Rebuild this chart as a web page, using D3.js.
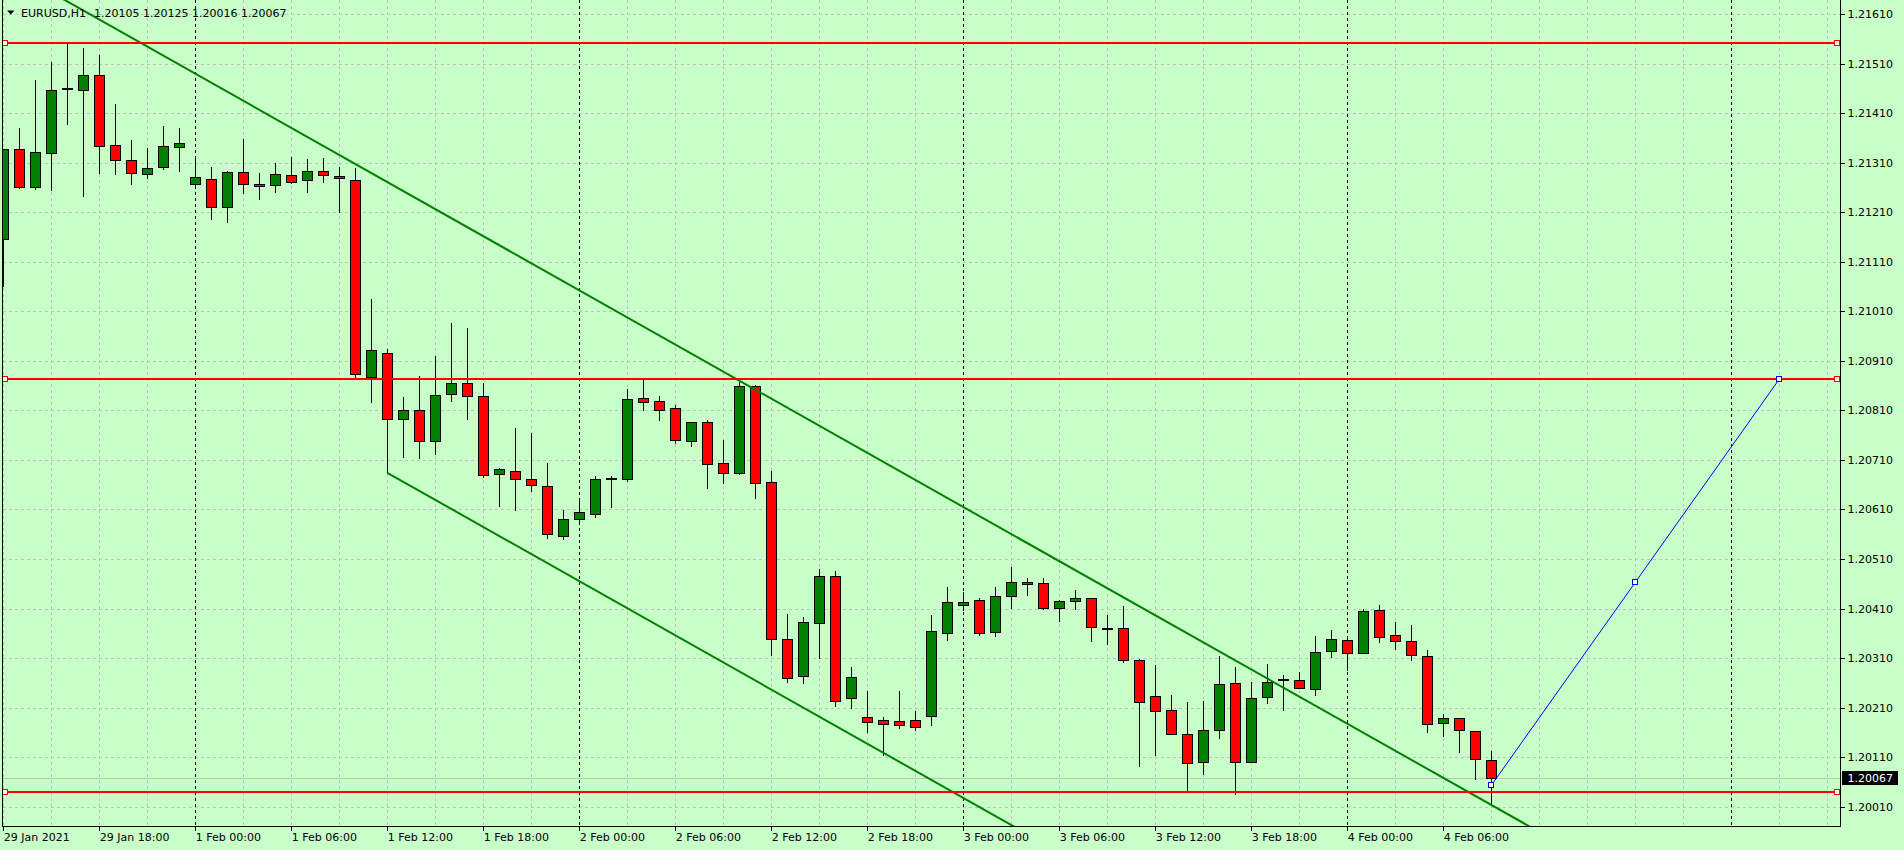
<!DOCTYPE html>
<html lang="en">
<head>
<meta charset="utf-8">
<title>EURUSD,H1</title>
<script src="https://d3js.org/d3.v7.min.js"></script>
<style>
  body { margin: 0; background: #c8ffc8; overflow: hidden; }
  svg { display: block; }
  text { font-family: "DejaVu Sans", sans-serif; font-size: 11px; }
  .crisp line, .crisp rect { shape-rendering: crispEdges; }
</style>
</head>
<body>
<script>
// H1 bars, 29 Jan 2021 12:00 .. 4 Feb 2021 09:00
var opens = [1.21155,1.21337,1.21260,1.21329,1.21459,1.21457,1.21486,1.21345,1.21315,1.21288,
  1.21301,1.21341,1.21267,1.21276,1.21220,1.21292,1.21267,1.21264,1.21286,1.21274,
  1.21294,1.21284,1.21274,1.20878,1.20925,1.20793,1.20810,1.20749,1.20842,1.20865,
  1.20838,1.20681,1.20687,1.20671,1.20657,1.20557,1.20590,1.20600,1.20672,1.20671,
  1.20834,1.20828,1.20814,1.20749,1.20786,1.20703,1.20684,1.20860,1.20666,1.20349,
  1.20273,1.20381,1.20475,1.20229,1.20191,1.20185,1.20183,1.20185,1.20193,1.20360,
  1.20418,1.20428,1.20362,1.20436,1.20463,1.20461,1.20412,1.20426,1.20432,1.20368,
  1.20370,1.20307,1.20234,1.20206,1.20156,1.20101,1.20164,1.20259,1.20101,1.20232,
  1.20265,1.20265,1.20247,1.20325,1.20346,1.20321,1.20408,1.20356,1.20344,1.20315,
  1.20178,1.20190,1.20162,1.20105];
var highs = [1.21339,1.21382,1.21479,1.21515,1.21553,1.21543,1.21529,1.21430,1.21358,1.21342,
  1.21385,1.21382,1.21323,1.21303,1.21295,1.21360,1.21291,1.21311,1.21323,1.21319,
  1.21321,1.21303,1.21301,1.21037,1.20935,1.20839,1.20881,1.20922,1.20988,1.20978,
  1.20867,1.20696,1.20776,1.20766,1.20706,1.20610,1.20632,1.20679,1.20679,1.20856,
  1.20873,1.20840,1.20822,1.20788,1.20792,1.20753,1.20869,1.20863,1.20689,1.20400,
  1.20395,1.20492,1.20487,1.20294,1.20245,1.20193,1.20245,1.20205,1.20399,1.20455,
  1.20446,1.20434,1.20455,1.20496,1.20473,1.20473,1.20430,1.20450,1.20432,1.20398,
  1.20417,1.20311,1.20298,1.20237,1.20223,1.20226,1.20317,1.20293,1.20263,1.20301,
  1.20277,1.20283,1.20356,1.20368,1.20350,1.20412,1.20420,1.20384,1.20378,1.20329,
  1.20200,1.20190,1.20162,1.20125];
var lows = [1.21061,1.21258,1.21257,1.21255,1.21387,1.21243,1.21290,1.21288,1.21267,1.21278,
  1.21298,1.21294,1.21264,1.21197,1.21191,1.21249,1.21237,1.21251,1.21268,1.21251,
  1.21271,1.21211,1.20875,1.20827,1.20684,1.20716,1.20714,1.20722,1.20829,1.20793,
  1.20676,1.20617,1.20609,1.20648,1.20553,1.20551,1.20583,1.20595,1.20615,1.20667,
  1.20811,1.20791,1.20745,1.20739,1.20654,1.20663,1.20681,1.20634,1.20316,1.20261,
  1.20260,1.20310,1.20213,1.20209,1.20160,1.20114,1.20168,1.20164,1.20175,1.20346,
  1.20407,1.20356,1.20354,1.20411,1.20438,1.20410,1.20385,1.20410,1.20344,1.20339,
  1.20302,1.20092,1.20114,1.20156,1.20040,1.20076,1.20148,1.20035,1.20101,1.20220,
  1.20206,1.20249,1.20235,1.20312,1.20285,1.20321,1.20342,1.20329,1.20307,1.20160,
  1.20152,1.20121,1.20065,1.20016];
var closes = [1.21337,1.21260,1.21331,1.21456,1.21459,1.21486,1.21344,1.21316,1.21290,1.21299,
  1.21343,1.21349,1.21280,1.21220,1.21292,1.21266,1.21262,1.21288,1.21271,1.21294,
  1.21286,1.21278,1.20883,1.20932,1.20792,1.20810,1.20749,1.20840,1.20865,1.20838,
  1.20679,1.20691,1.20671,1.20659,1.20560,1.20590,1.20604,1.20671,1.20672,1.20832,
  1.20826,1.20810,1.20751,1.20786,1.20701,1.20683,1.20860,1.20663,1.20349,1.20270,
  1.20382,1.20475,1.20224,1.20271,1.20181,1.20177,1.20175,1.20170,1.20364,1.20424,
  1.20424,1.20360,1.20436,1.20463,1.20459,1.20412,1.20426,1.20432,1.20372,1.20368,
  1.20307,1.20222,1.20204,1.20156,1.20099,1.20164,1.20257,1.20101,1.20230,1.20261,
  1.20265,1.20249,1.20323,1.20348,1.20321,1.20406,1.20352,1.20344,1.20317,1.20177,
  1.20190,1.20164,1.20107,1.20067];

var timeLabels = ["29 Jan 2021","29 Jan 18:00","1 Feb 00:00","1 Feb 06:00","1 Feb 12:00",
  "1 Feb 18:00","2 Feb 00:00","2 Feb 06:00","2 Feb 12:00","2 Feb 18:00","3 Feb 00:00",
  "3 Feb 06:00","3 Feb 12:00","3 Feb 18:00","4 Feb 00:00","4 Feb 06:00"];
var labelBars = [0,6,12,18,24,30,36,42,48,54,60,66,72,78,84,90];
var dayStarts = [12,36,60,84,108];
var priceTicks = [1.20010,1.20110,1.20210,1.20310,1.20410,1.20510,1.20610,1.20710,1.20810,
  1.20910,1.21010,1.21110,1.21210,1.21310,1.21410,1.21510,1.21610];

// objects drawn on the chart
var hLines = [1.21552, 1.20873, 1.20040];
var upperLine = [[19, 1.21362], [46, 1.20870]];
var lowerLine = [[24, 1.20684], [50, 1.20210]];
var blueLine = [[93, 1.20053], [111, 1.20873]];
var bid = 1.20067;
var title = "EURUSD,H1", ohlc = "1.20105 1.20125 1.20016 1.20067";

var width = 1904, height = 850;
var left = 2.5, right = 1840.5, bottom = 826.5;

var x = d3.scaleLinear().domain([0, 1]).range([3.3, 19.3]);
var y = d3.scaleLinear().domain([1.20010, 1.21610]).range([806.7, 14]);
function px(i) { return Math.round(x(i)) + 0.5; }
function py(p) { return Math.round(y(p)) + 0.5; }

var svg = d3.select("body").append("svg")
    .attr("width", width)
    .attr("height", height);

svg.append("rect").attr("width", width).attr("height", height).attr("fill", "#c8ffc8");

svg.append("clipPath").attr("id", "plot")
  .append("rect").attr("x", 3).attr("y", 0).attr("width", right - 3.5).attr("height", bottom - 0.5);

var plot = svg.append("g").attr("clip-path", "url(#plot)");
var grid = plot.append("g").attr("class", "crisp");

// grid
grid.selectAll(".hgrid").data(priceTicks).enter().append("line")
    .attr("x1", left).attr("x2", right)
    .attr("y1", function(d) { return py(d); })
    .attr("y2", function(d) { return py(d); })
    .attr("stroke", "#c0c0c0").attr("stroke-dasharray", "3,3");

var gridBars = d3.range(0, 116, 3).filter(function(i) { return dayStarts.indexOf(i) < 0; });
grid.selectAll(".vgrid").data(gridBars).enter().append("line")
    .attr("x1", function(d) { return px(d); })
    .attr("x2", function(d) { return px(d); })
    .attr("y1", 0).attr("y2", bottom)
    .attr("stroke", "#c0c0c0").attr("stroke-dasharray", "3,3");

grid.selectAll(".day").data(dayStarts).enter().append("line")
    .attr("x1", function(d) { return px(d); })
    .attr("x2", function(d) { return px(d); })
    .attr("y1", 0).attr("y2", bottom)
    .attr("stroke", "#000").attr("stroke-dasharray", "3,3");

// bid line
grid.append("line")
    .attr("x1", left).attr("x2", right)
    .attr("y1", py(bid)).attr("y2", py(bid))
    .attr("stroke", "#c0c0c0");

// candles
var bars = d3.range(opens.length);
var candle = plot.append("g").attr("class", "crisp")
  .selectAll(".bar").data(bars).enter().append("g");

candle.append("line")
    .attr("x1", function(i) { return px(i); })
    .attr("x2", function(i) { return px(i); })
    .attr("y1", function(i) { return py(highs[i]); })
    .attr("y2", function(i) { return py(lows[i]); })
    .attr("stroke", "#000");

candle.filter(function(i) { return opens[i] !== closes[i]; }).append("rect")
    .attr("x", function(i) { return px(i) - 5; })
    .attr("width", 10)
    .attr("y", function(i) { return py(Math.max(opens[i], closes[i])); })
    .attr("height", function(i) { return Math.max(1, py(Math.min(opens[i], closes[i])) - py(Math.max(opens[i], closes[i]))); })
    .attr("fill", function(i) { return closes[i] > opens[i] ? "#008000" : "#ff0000"; })
    .attr("stroke", "#000");

candle.filter(function(i) { return opens[i] === closes[i]; }).append("rect")
    .attr("x", function(i) { return px(i) - 5.5; })
    .attr("width", 11)
    .attr("y", function(i) { return Math.round(y(opens[i])) - 1; })
    .attr("height", 2)
    .attr("fill", "#000");

// trend lines
function priceAt(line, t) {
  var a = line[0], b = line[1];
  return a[1] + (b[1] - a[1]) * (t - a[0]) / (b[0] - a[0]);
}
function ray(line, from, to) {
  plot.append("line")
      .attr("x1", x(from)).attr("y1", y(priceAt(line, from)))
      .attr("x2", x(to)).attr("y2", y(priceAt(line, to)))
      .attr("stroke", "#008000").attr("stroke-width", 2);
}
ray(upperLine, -10, 130);
ray(lowerLine, lowerLine[0][0], 130);

plot.append("g").attr("class", "crisp")
  .selectAll(".hline").data(hLines).enter().append("line")
    .attr("x1", left).attr("x2", right)
    .attr("y1", function(d) { return Math.round(y(d)); })
    .attr("y2", function(d) { return Math.round(y(d)); })
    .attr("stroke", "#ff0000").attr("stroke-width", 2);

plot.append("line")
    .attr("x1", x(blueLine[0][0])).attr("y1", y(blueLine[0][1]))
    .attr("x2", x(blueLine[1][0])).attr("y2", y(blueLine[1][1]))
    .attr("stroke", "#0000ff").attr("stroke-width", 1);

var marks = svg.append("g").attr("class", "crisp");
function marker(cx, cy, color) {
  marks.append("rect")
      .attr("x", Math.round(cx) - 2.5).attr("y", Math.round(cy) - 2.5)
      .attr("width", 5).attr("height", 5)
      .attr("fill", "#fff").attr("stroke", color).attr("stroke-width", 1.5);
}
hLines.forEach(function(p) {
  marker(5, y(p), "#ff0000");
  marker(1837, y(p), "#ff0000");
});
var midBar = (blueLine[0][0] + blueLine[1][0]) / 2;
marker(x(blueLine[0][0]), y(blueLine[0][1]), "#0000ff");
marker(x(midBar), y(priceAt(blueLine, midBar)), "#0000ff");
marker(x(blueLine[1][0]), y(blueLine[1][1]), "#0000ff");

// frame
svg.append("path")
    .attr("d", "M" + left + ",0V" + bottom + "H" + right + "V0")
    .attr("fill", "none").attr("stroke", "#000").attr("shape-rendering", "crispEdges");

// axes
var xAxis = svg.append("g")
    .attr("class", "crisp")
    .attr("transform", "translate(0," + bottom + ")")
    .call(d3.axisBottom(x)
      .tickValues(labelBars)
      .tickSize(4)
      .tickSizeOuter(0)
      .tickFormat(function(d, i) { return timeLabels[i]; }));
xAxis.select(".domain").remove();
xAxis.selectAll("text")
    .attr("text-anchor", "start").attr("x", 0).attr("fill", "#000")
    .style("font-family", "'DejaVu Sans', sans-serif").style("font-size", "11px");
xAxis.selectAll("line").attr("stroke", "#000");

var yAxis = svg.append("g")
    .attr("class", "crisp")
    .attr("transform", "translate(" + right + ",0)")
    .call(d3.axisRight(y)
      .tickValues(priceTicks)
      .tickSize(4)
      .tickSizeOuter(0)
      .tickFormat(d3.format(".5f")));
yAxis.select(".domain").remove();
yAxis.selectAll("text")
    .attr("x", 7).attr("fill", "#000")
    .style("font-family", "'DejaVu Sans', sans-serif").style("font-size", "11px");
yAxis.selectAll("line").attr("stroke", "#000");

// bid label
svg.append("rect")
    .attr("x", 1842).attr("y", Math.round(y(bid)) - 7)
    .attr("width", 56).attr("height", 14).attr("fill", "#000");
svg.append("text")
    .attr("x", right + 7).attr("y", y(bid)).attr("dy", "0.32em")
    .attr("fill", "#fff").text(d3.format(".5f")(bid));

// title
svg.append("path").attr("d", "M7,10.5H14.5L10.75,14.5Z").attr("fill", "#000");
svg.append("text").attr("x", 21).attr("y", 17).attr("fill", "#000").text(title);
svg.append("text").attr("x", 94).attr("y", 17).attr("fill", "#000").text(ohlc);
</script>
</body>
</html>
